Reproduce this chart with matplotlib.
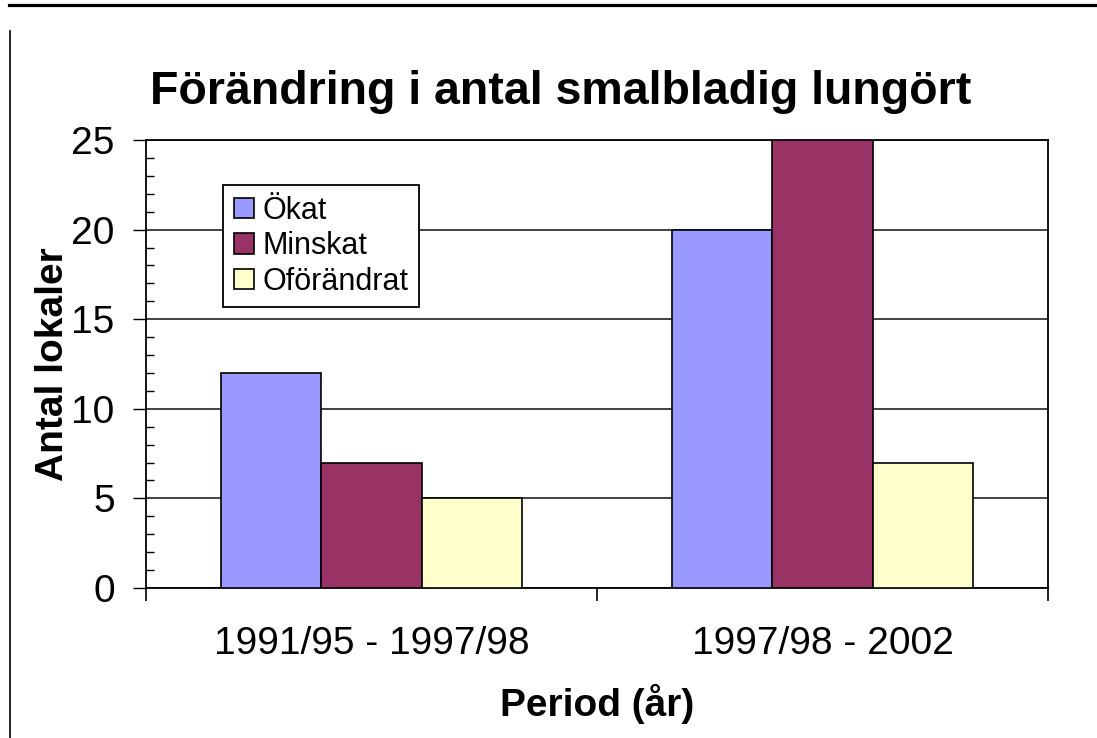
import numpy as np
import matplotlib.pyplot as plt
from matplotlib.lines import Line2D
from matplotlib.ticker import MultipleLocator

plt.rcParams['font.family'] = ['Liberation Sans', 'DejaVu Sans']

periods = ['1991/95 - 1997/98', '1997/98 - 2002']
series = ['Ökat', 'Minskat', 'Oförändrat']
okat = [12, 20]
minskat = [7, 25]
oforandrat = [5, 7]
colors = ['#9999FF', '#993366', '#FFFFCC']

fig = plt.figure(figsize=(10.97, 7.38), dpi=100)
ax = fig.add_axes([146/1097, 150/738, 902/1097, 448/738])

x = np.arange(len(periods))
w = 0.222
for i, (vals, name) in enumerate(zip([okat, minskat, oforandrat], series)):
    ax.bar(x + (i - 1)*w, vals, w, color=colors[i], edgecolor='black',
           linewidth=1.2, label=name, zorder=3)

ax.set_xlim(-0.5, 1.5)
ax.set_ylim(0, 25)
ax.yaxis.set_major_locator(MultipleLocator(5))
ax.yaxis.set_minor_locator(MultipleLocator(1))
ax.grid(axis='y', which='major', color='#222222', linewidth=1.2, zorder=0)

# category boundary ticks on x axis
ax.set_xticks([-0.5, 0.5, 1.5])
ax.set_xticklabels([])
ax.set_xticks(x, minor=True)
ax.set_xticklabels(periods, minor=True, fontsize=28)
ax.tick_params(axis='x', which='major', direction='out', length=9, width=1.2)
ax.tick_params(axis='x', which='minor', length=0, pad=27)
ax.tick_params(axis='y', which='major', direction='out', length=9.5, width=1.0,
               labelsize=28, pad=13)
ax.tick_params(axis='y', which='minor', direction='in', length=6, width=1.0)

for s in ax.spines.values():
    s.set_linewidth(1.3)
    s.set_color('black')

ax.set_ylabel('Antal lokaler', fontsize=28, fontweight='bold', labelpad=0)
ax.set_xlabel('Period (år)', fontsize=28, fontweight='bold', labelpad=16)
fig.text(0.511, 0.876, 'Förändring i antal smalbladig lungört', fontsize=33.5,
         fontweight='bold', ha='center', va='center')

leg = ax.legend(loc='upper left', bbox_to_anchor=(0.0854, 0.8996), borderaxespad=0,
                fontsize=22, frameon=True, fancybox=False, edgecolor='black',
                framealpha=1, handlelength=0.65, handleheight=0.65,
                handletextpad=0.3, labelspacing=0.18, borderpad=0.35)
leg.get_frame().set_linewidth(1.3)

# border lines of the page
fig.add_artist(Line2D([9/1097, 1], [1 - 4.5/738, 1 - 4.5/738], color='black',
                      linewidth=2.3, transform=fig.transFigure))
fig.add_artist(Line2D([10/1097, 10/1097], [0, 1 - 31/738], color='black',
                      linewidth=1.2, transform=fig.transFigure))

fig.savefig('out.png', dpi=100)
